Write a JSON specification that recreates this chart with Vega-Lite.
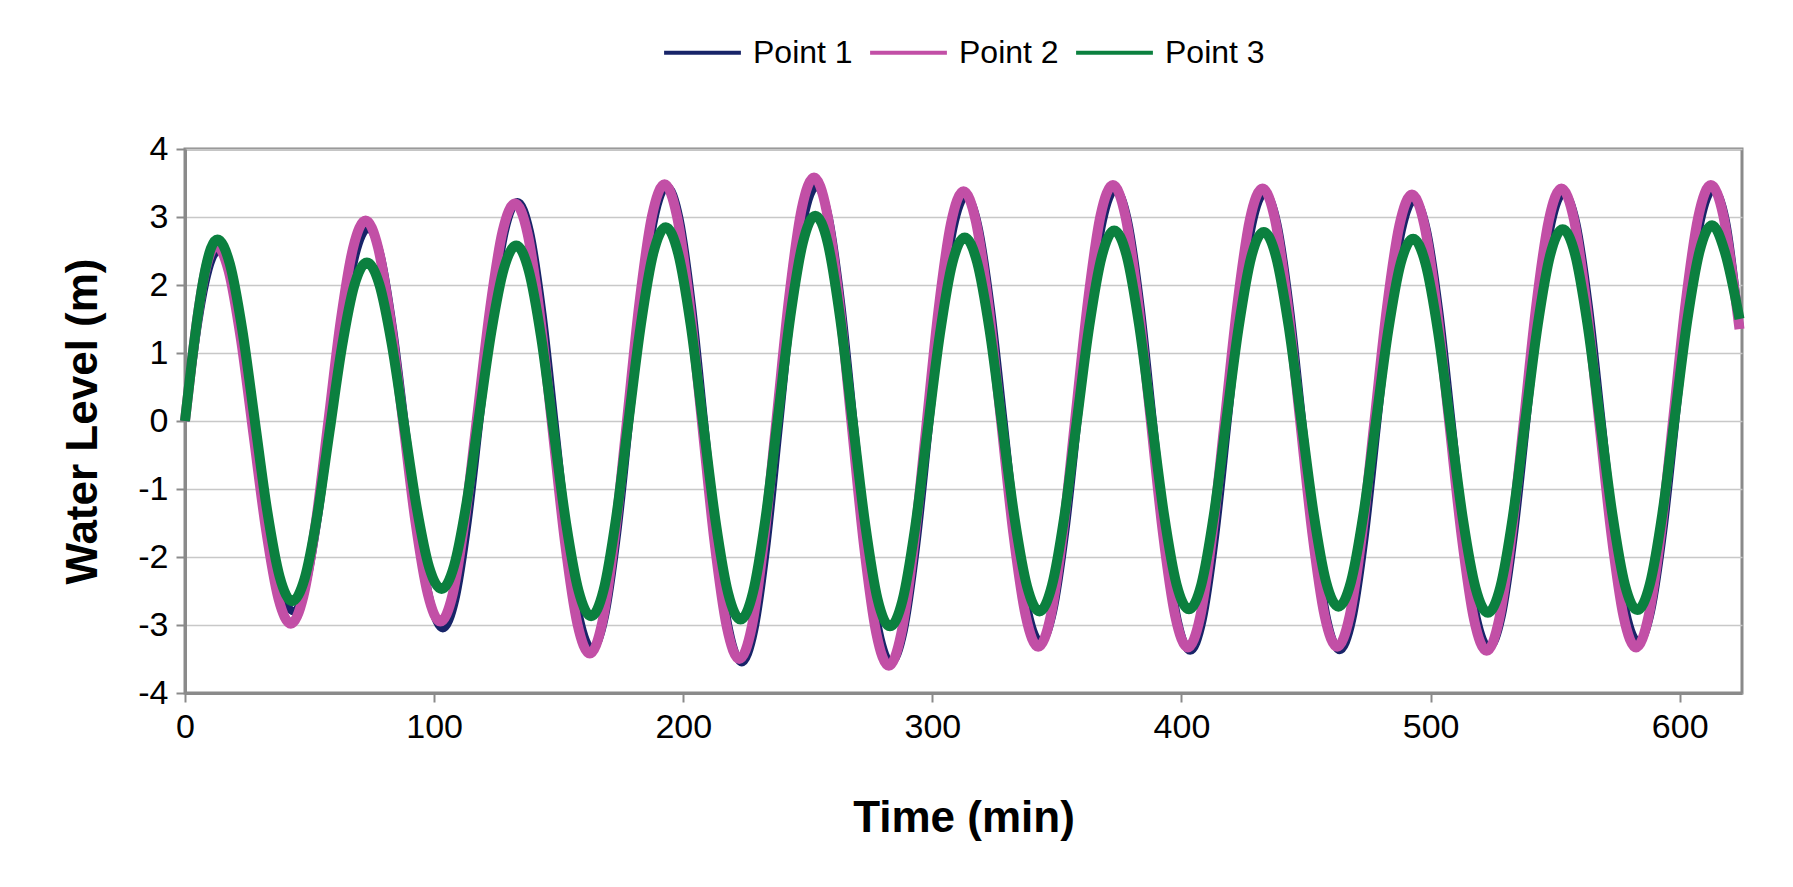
{
  "$schema": "https://vega.github.io/schema/vega-lite/v6.json",
  "autosize": "none",
  "width": 1557,
  "height": 544,
  "padding": {"left": 185, "top": 149, "right": 51, "bottom": 194},
  "background": "#ffffff",
  "config": {
    "view": {"stroke": "#8a8a8a", "strokeWidth": 3},
    "font": "Liberation Sans",
    "legend": {"layout": {"top": {"anchor": "middle"}}}
  },
  "datasets": {
    "p1": [
      {"t":0,"v":0},{"t":2.7,"v":0.77},{"t":5.4,"v":1.47},{"t":8.1,"v":2.02},{"t":10.8,"v":2.38},{"t":13.5,"v":2.5},
      {"t":18.5,"v":2.14},{"t":23.5,"v":1.18},{"t":28.5,"v":-0.15},{"t":33.5,"v":-1.48},{"t":38.5,"v":-2.44},
      {"t":43.5,"v":-2.8},{"t":48.5,"v":-2.42},{"t":53.5,"v":-1.39},{"t":58.5,"v":0.02},{"t":63.5,"v":1.42},{"t":68.5,"v":2.45},
      {"t":73.5,"v":2.83},{"t":78.5,"v":2.44},{"t":83.5,"v":1.36},{"t":88.5,"v":-0.11},{"t":93.5,"v":-1.58},{"t":98.5,"v":-2.66},
      {"t":103.5,"v":-3.05},{"t":108.5,"v":-2.63},{"t":113.5,"v":-1.48},{"t":118.5,"v":0.09},{"t":123.5,"v":1.65},{"t":128.5,"v":2.8},
      {"t":133.5,"v":3.22},{"t":138.5,"v":2.78},{"t":143.5,"v":1.58},{"t":148.5,"v":-0.07},{"t":153.5,"v":-1.71},{"t":158.5,"v":-2.91},
      {"t":163.5,"v":-3.35},{"t":168.5,"v":-2.89},{"t":173.5,"v":-1.65},{"t":178.5,"v":0.05},{"t":183.5,"v":1.75},{"t":188.5,"v":2.99},
      {"t":193.5,"v":3.45},{"t":198.5,"v":2.98},{"t":203.5,"v":1.7},{"t":208.5,"v":-0.05},{"t":213.5,"v":-1.8},{"t":218.5,"v":-3.08},
      {"t":223.5,"v":-3.55},{"t":228.5,"v":-3.08},{"t":233.5,"v":-1.8},{"t":238.5,"v":-0.05},{"t":243.5,"v":1.7},{"t":248.5,"v":2.98},
      {"t":253.5,"v":3.45},{"t":258.5,"v":2.98},{"t":263.5,"v":1.7},{"t":268.5,"v":-0.05},{"t":273.5,"v":-1.8},{"t":278.5,"v":-3.08},
      {"t":283.5,"v":-3.55},{"t":288.5,"v":-3.09},{"t":293.5,"v":-1.84},{"t":298.5,"v":-0.13},{"t":303.5,"v":1.59},{"t":308.5,"v":2.84},
      {"t":313.5,"v":3.3},{"t":318.5,"v":2.86},{"t":323.5,"v":1.66},{"t":328.5,"v":0.03},{"t":333.5,"v":-1.61},{"t":338.5,"v":-2.81},
      {"t":343.5,"v":-3.25},{"t":348.5,"v":-2.8},{"t":353.5,"v":-1.59},{"t":358.5,"v":0.08},{"t":363.5,"v":1.74},{"t":368.5,"v":2.95},
      {"t":373.5,"v":3.4},{"t":378.5,"v":2.95},{"t":383.5,"v":1.71},{"t":388.5,"v":0.01},{"t":393.5,"v":-1.69},{"t":398.5,"v":-2.93},
      {"t":403.5,"v":-3.38},{"t":408.5,"v":-2.93},{"t":413.5,"v":-1.7},{"t":418.5,"v":-0.02},{"t":423.5,"v":1.67},{"t":428.5,"v":2.9},
      {"t":433.5,"v":3.35},{"t":438.5,"v":2.9},{"t":443.5,"v":1.67},{"t":448.5,"v":-0.01},{"t":453.5,"v":-1.69},{"t":458.5,"v":-2.92},
      {"t":463.5,"v":-3.37},{"t":468.5,"v":-2.93},{"t":473.5,"v":-1.72},{"t":478.5,"v":-0.06},{"t":483.5,"v":1.6},{"t":488.5,"v":2.81},
      {"t":493.5,"v":3.25},{"t":498.5,"v":2.81},{"t":503.5,"v":1.61},{"t":508.5,"v":-0.04},{"t":513.5,"v":-1.69},{"t":518.5,"v":-2.89},
      {"t":523.5,"v":-3.33},{"t":528.5,"v":-2.88},{"t":533.5,"v":-1.66},{"t":538.5,"v":0.01},{"t":543.5,"v":1.68},{"t":548.5,"v":2.9},
      {"t":553.5,"v":3.35},{"t":558.5,"v":2.91},{"t":563.5,"v":1.7},{"t":568.5,"v":0.05},{"t":573.5,"v":-1.6},{"t":578.5,"v":-2.81},
      {"t":583.5,"v":-3.25},{"t":588.5,"v":-2.8},{"t":593.5,"v":-1.59},{"t":598.5,"v":0.08},{"t":603.5,"v":1.74},{"t":608.5,"v":2.95},
      {"t":613.5,"v":3.4},{"t":618.5,"v":2.95},{"t":624,"v":1.4}
    ],
    "p2": [
      {"t":0,"v":0},{"t":2.5,"v":0.8},{"t":5,"v":1.52},{"t":7.5,"v":2.09},{"t":10,"v":2.45},{"t":12.5,"v":2.58},
      {"t":17.5,"v":2.21},{"t":22.5,"v":1.19},{"t":27.5,"v":-0.2},{"t":32.5,"v":-1.59},{"t":37.5,"v":-2.61},
      {"t":42.5,"v":-2.98},{"t":47.5,"v":-2.58},{"t":52.5,"v":-1.5},{"t":57.5,"v":-0.02},{"t":62.5,"v":1.47},{"t":67.5,"v":2.55},
      {"t":72.5,"v":2.95},{"t":77.5,"v":2.55},{"t":82.5,"v":1.48},{"t":87.5,"v":0},{"t":92.5,"v":-1.48},{"t":97.5,"v":-2.55},
      {"t":102.5,"v":-2.95},{"t":107.5,"v":-2.54},{"t":112.5,"v":-1.41},{"t":117.5,"v":0.13},{"t":122.5,"v":1.66},{"t":127.5,"v":2.79},
      {"t":132.5,"v":3.2},{"t":137.5,"v":2.76},{"t":142.5,"v":1.55},{"t":147.5,"v":-0.11},{"t":152.5,"v":-1.77},{"t":157.5,"v":-2.98},
      {"t":162.5,"v":-3.42},{"t":167.5,"v":-2.96},{"t":172.5,"v":-1.7},{"t":177.5,"v":0.03},{"t":182.5,"v":1.76},{"t":187.5,"v":3.02},
      {"t":192.5,"v":3.48},{"t":197.5,"v":3.01},{"t":202.5,"v":1.74},{"t":207.5,"v":-0.01},{"t":212.5,"v":-1.76},{"t":217.5,"v":-3.03},
      {"t":222.5,"v":-3.5},{"t":227.5,"v":-3.03},{"t":232.5,"v":-1.73},{"t":237.5,"v":0.04},{"t":242.5,"v":1.81},{"t":247.5,"v":3.11},
      {"t":252.5,"v":3.58},{"t":257.5,"v":3.1},{"t":262.5,"v":1.79},{"t":267.5,"v":-0.01},{"t":272.5,"v":-1.81},{"t":277.5,"v":-3.12},
      {"t":282.5,"v":-3.6},{"t":287.5,"v":-3.13},{"t":292.5,"v":-1.86},{"t":297.5,"v":-0.11},{"t":302.5,"v":1.64},{"t":307.5,"v":2.91},
      {"t":312.5,"v":3.38},{"t":317.5,"v":2.93},{"t":322.5,"v":1.71},{"t":327.5,"v":0.03},{"t":332.5,"v":-1.65},{"t":337.5,"v":-2.87},
      {"t":342.5,"v":-3.32},{"t":347.5,"v":-2.87},{"t":352.5,"v":-1.62},{"t":357.5,"v":0.08},{"t":362.5,"v":1.77},{"t":367.5,"v":3.02},
      {"t":372.5,"v":3.47},{"t":377.5,"v":3.01},{"t":382.5,"v":1.77},{"t":387.5,"v":0.07},{"t":392.5,"v":-1.63},{"t":397.5,"v":-2.87},
      {"t":402.5,"v":-3.33},{"t":407.5,"v":-2.88},{"t":412.5,"v":-1.64},{"t":417.5,"v":0.05},{"t":422.5,"v":1.73},{"t":427.5,"v":2.97},
      {"t":432.5,"v":3.42},{"t":437.5,"v":2.97},{"t":442.5,"v":1.74},{"t":447.5,"v":0.05},{"t":452.5,"v":-1.64},{"t":457.5,"v":-2.87},
      {"t":462.5,"v":-3.32},{"t":467.5,"v":-2.87},{"t":472.5,"v":-1.66},{"t":477.5,"v":0.01},{"t":482.5,"v":1.67},{"t":487.5,"v":2.88},
      {"t":492.5,"v":3.33},{"t":497.5,"v":2.88},{"t":502.5,"v":1.65},{"t":507.5,"v":-0.03},{"t":512.5,"v":-1.7},{"t":517.5,"v":-2.93},
      {"t":522.5,"v":-3.38},{"t":527.5,"v":-2.92},{"t":532.5,"v":-1.68},{"t":537.5,"v":0.02},{"t":542.5,"v":1.72},{"t":547.5,"v":2.96},
      {"t":552.5,"v":3.42},{"t":557.5,"v":2.97},{"t":562.5,"v":1.73},{"t":567.5,"v":0.05},{"t":572.5,"v":-1.64},{"t":577.5,"v":-2.88},
      {"t":582.5,"v":-3.33},{"t":587.5,"v":-2.87},{"t":592.5,"v":-1.63},{"t":597.5,"v":0.07},{"t":602.5,"v":1.77},{"t":607.5,"v":3.01},
      {"t":612.5,"v":3.47},{"t":617.5,"v":3.02},{"t":622.5,"v":1.78},{"t":624,"v":1.35}
    ],
    "p3": [
      {"t":0,"v":0},{"t":2.6,"v":0.83},{"t":5.2,"v":1.57},{"t":7.8,"v":2.16},{"t":10.4,"v":2.54},{"t":13,"v":2.67},
      {"t":18,"v":2.31},{"t":23,"v":1.34},{"t":28,"v":0.01},{"t":33,"v":-1.32},{"t":38,"v":-2.29},
      {"t":43,"v":-2.65},{"t":48,"v":-2.32},{"t":53,"v":-1.41},{"t":58,"v":-0.16},{"t":63,"v":1.09},{"t":68,"v":2.0},
      {"t":73,"v":2.33},{"t":78,"v":2.01},{"t":83,"v":1.13},{"t":88,"v":-0.07},{"t":93,"v":-1.27},{"t":98,"v":-2.15},
      {"t":103,"v":-2.47},{"t":108,"v":-2.13},{"t":113,"v":-1.21},{"t":118,"v":0.06},{"t":123,"v":1.32},{"t":128,"v":2.24},
      {"t":133,"v":2.58},{"t":138,"v":2.21},{"t":143,"v":1.22},{"t":148,"v":-0.15},{"t":153,"v":-1.51},{"t":158,"v":-2.5},
      {"t":163,"v":-2.87},{"t":168,"v":-2.49},{"t":173,"v":-1.44},{"t":178,"v":-0.01},{"t":183,"v":1.42},{"t":188,"v":2.47},
      {"t":193,"v":2.85},{"t":198,"v":2.46},{"t":203,"v":1.41},{"t":208,"v":-0.04},{"t":213,"v":-1.48},{"t":218,"v":-2.53},
      {"t":223,"v":-2.92},{"t":228,"v":-2.52},{"t":233,"v":-1.44},{"t":238,"v":0.05},{"t":243,"v":1.54},{"t":248,"v":2.62},
      {"t":253,"v":3.02},{"t":258,"v":2.62},{"t":263,"v":1.51},{"t":268,"v":0},{"t":273,"v":-1.51},{"t":278,"v":-2.62},
      {"t":283,"v":-3.02},{"t":288,"v":-2.64},{"t":293,"v":-1.59},{"t":298,"v":-0.16},{"t":303,"v":1.27},{"t":308,"v":2.32},
      {"t":313,"v":2.7},{"t":318,"v":2.33},{"t":323,"v":1.33},{"t":328,"v":-0.05},{"t":333,"v":-1.43},{"t":338,"v":-2.43},
      {"t":343,"v":-2.8},{"t":348,"v":-2.42},{"t":353,"v":-1.4},{"t":358,"v":0},{"t":363,"v":1.4},{"t":368,"v":2.42},
      {"t":373,"v":2.8},{"t":378,"v":2.43},{"t":383,"v":1.41},{"t":388,"v":0.02},{"t":393,"v":-1.38},{"t":398,"v":-2.4},
      {"t":403,"v":-2.77},{"t":408,"v":-2.4},{"t":413,"v":-1.38},{"t":418,"v":0.01},{"t":423,"v":1.39},{"t":428,"v":2.41},
      {"t":433,"v":2.78},{"t":438,"v":2.41},{"t":443,"v":1.4},{"t":448,"v":0.03},{"t":453,"v":-1.35},{"t":458,"v":-2.36},
      {"t":463,"v":-2.73},{"t":468,"v":-2.37},{"t":473,"v":-1.38},{"t":478,"v":-0.03},{"t":483,"v":1.33},{"t":488,"v":2.32},
      {"t":493,"v":2.68},{"t":498,"v":2.31},{"t":503,"v":1.31},{"t":508,"v":-0.07},{"t":513,"v":-1.45},{"t":518,"v":-2.45},
      {"t":523,"v":-2.82},{"t":528,"v":-2.44},{"t":533,"v":-1.41},{"t":538,"v":0},{"t":543,"v":1.41},{"t":548,"v":2.44},
      {"t":553,"v":2.82},{"t":558,"v":2.45},{"t":563,"v":1.42},{"t":568,"v":0.02},{"t":573,"v":-1.38},{"t":578,"v":-2.41},
      {"t":583,"v":-2.78},{"t":588,"v":-2.4},{"t":593,"v":-1.37},{"t":598,"v":0.05},{"t":603,"v":1.47},{"t":608,"v":2.5},
      {"t":613,"v":2.88},{"t":618,"v":2.5},{"t":624,"v":1.5}
    ]
  },
  "encoding": {
    "x": {
      "field": "t", "type": "quantitative",
      "scale": {"domain": [0, 625], "nice": false, "zero": false},
      "axis": {
        "values": [0, 100, 200, 300, 400, 500, 600],
        "grid": false, "labelFlush": false,
        "domainColor": "#8a8a8a", "domainWidth": 3,
        "tickColor": "#8a8a8a", "tickWidth": 2, "tickSize": 9,
        "labelFont": "Liberation Sans", "labelFontSize": 34, "labelColor": "#000000", "labelPadding": 8,
        "title": "Time (min)", "titleFont": "Liberation Sans", "titleFontSize": 44, "titleFontWeight": "bold",
        "titleColor": "#000000", "titlePadding": 52
      }
    },
    "y": {
      "field": "v", "type": "quantitative",
      "scale": {"domain": [-4, 4], "nice": false, "zero": false},
      "axis": {
        "values": [-4, -3, -2, -1, 0, 1, 2, 3, 4],
        "labelExpr": "'' + datum.value",
        "grid": true, "gridColor": "#c8c8c8", "gridWidth": 1.5, "labelFlush": false,
        "domainColor": "#8a8a8a", "domainWidth": 3,
        "tickColor": "#8a8a8a", "tickWidth": 2, "tickSize": 9,
        "labelFont": "Liberation Sans", "labelFontSize": 34, "labelColor": "#000000", "labelPadding": 8,
        "title": "Water Level (m)", "titleFont": "Liberation Sans", "titleFontSize": 44, "titleFontWeight": "bold",
        "titleColor": "#000000", "titlePadding": 32
      }
    }
  },
  "layer": [
    {
      "data": {"name": "p1"},
      "mark": {"type": "line", "strokeWidth": 8, "interpolate": "monotone", "strokeJoin": "round"},
      "encoding": {
        "color": {
          "datum": "Point 1",
          "scale": {"domain": ["Point 1", "Point 2", "Point 3"], "range": ["#182468", "#c24fa6", "#0b803f"]},
          "legend": {
            "orient": "top", "direction": "horizontal", "title": null, "offset": 80,
            "symbolType": "stroke", "symbolSize": 5900, "symbolStrokeWidth": 4,
            "labelFont": "Liberation Sans", "labelFontSize": 32, "labelColor": "#000000",
            "labelOffset": 10, "columnPadding": 9
          }
        }
      }
    },
    {
      "data": {"name": "p2"},
      "mark": {"type": "line", "strokeWidth": 10, "interpolate": "monotone", "strokeJoin": "round"},
      "encoding": {
        "color": {"datum": "Point 2"}
      }
    },
    {
      "data": {"name": "p3"},
      "mark": {"type": "line", "strokeWidth": 10, "interpolate": "monotone", "strokeJoin": "round"},
      "encoding": {
        "color": {"datum": "Point 3"}
      }
    }
  ]
}
